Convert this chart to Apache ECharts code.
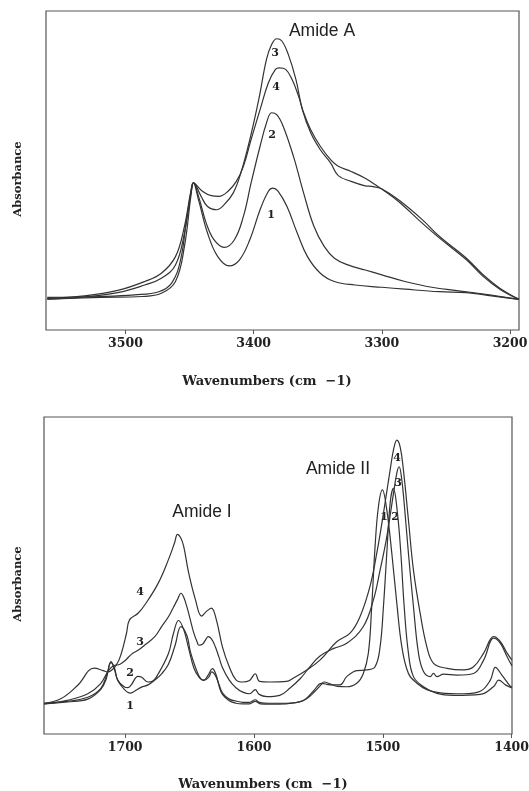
<!DOCTYPE html>
<html>
<head>
<meta charset="utf-8">
<script src="https://cdn.jsdelivr.net/npm/echarts@6/dist/echarts.min.js"></script>
<style>
html, body { margin: 0; padding: 0; background: #fff; }
#main { width: 529px; height: 791px; }
</style>
</head>
<body>
<div id="main"></div>
<script>
// Amide A region (cm-1, absorbance a.u.)
var amideA1 = [[3561,0.097],[3519,0.102],[3487,0.105],[3472,0.115],[3461,0.152],[3454,0.262],[3449,0.419],[3447,0.461],[3443,0.408],[3436,0.304],[3428,0.230],[3419,0.201],[3411,0.220],[3403,0.283],[3395,0.377],[3388.5,0.435],[3385,0.445],[3381,0.435],[3374,0.387],[3366,0.304],[3358,0.230],[3348,0.178],[3337,0.152],[3321,0.141],[3300,0.134],[3282,0.128],[3255,0.120],[3234,0.117],[3216,0.108],[3193,0.096]];
var amideA2 = [[3561,0.102],[3519,0.105],[3493,0.110],[3474,0.120],[3464,0.147],[3457,0.220],[3452,0.356],[3448,0.450],[3447,0.461],[3443,0.419],[3437,0.335],[3431,0.283],[3423,0.259],[3415,0.283],[3408,0.356],[3402,0.461],[3395,0.576],[3390,0.649],[3386,0.681],[3382,0.675],[3377,0.639],[3369,0.545],[3361,0.429],[3353,0.325],[3345,0.262],[3337,0.225],[3326.5,0.204],[3313,0.188],[3300,0.173],[3282,0.152],[3261,0.134],[3234,0.120],[3216,0.110],[3193,0.096]];
var amideA3 = [[3561,0.099],[3532,0.107],[3506,0.124],[3485,0.152],[3472,0.178],[3461,0.230],[3454,0.325],[3449,0.435],[3447,0.461],[3441,0.419],[3436,0.387],[3429,0.377],[3423,0.393],[3416,0.429],[3410,0.492],[3403,0.597],[3396,0.723],[3390,0.848],[3386,0.895],[3382,0.913],[3378,0.906],[3373,0.864],[3367,0.785],[3362,0.691],[3355.5,0.618],[3348,0.565],[3340,0.524],[3334,0.484],[3324,0.466],[3313,0.452],[3308,0.450],[3300,0.442],[3287,0.408],[3268.5,0.346],[3255,0.293],[3234,0.225],[3221,0.173],[3208,0.131],[3193,0.096]];
var amideA4 = [[3561,0.097],[3532,0.104],[3506,0.117],[3485,0.141],[3472,0.162],[3461,0.204],[3454,0.304],[3449,0.429],[3447,0.461],[3440,0.435],[3433,0.421],[3427,0.419],[3420,0.435],[3413.5,0.466],[3408,0.513],[3402,0.597],[3395,0.691],[3388.5,0.775],[3383,0.817],[3380,0.822],[3375,0.817],[3370,0.785],[3365,0.733],[3361,0.681],[3355.5,0.628],[3348,0.576],[3340,0.534],[3334,0.513],[3324,0.497],[3313,0.476],[3305,0.455],[3300,0.442],[3287,0.403],[3268.5,0.335],[3255,0.288],[3234,0.220],[3221,0.168],[3208,0.128],[3193,0.096]];

// Amide I / II region
var amideI1 = [[1763,0.095],[1745,0.101],[1729,0.110],[1719,0.140],[1715,0.170],[1711,0.228],[1708.4,0.205],[1705.8,0.170],[1700.5,0.140],[1696.1,0.129],[1692.7,0.135],[1687.4,0.148],[1682.2,0.155],[1677,0.170],[1671.7,0.190],[1666.4,0.220],[1661.2,0.280],[1656.7,0.339],[1652,0.310],[1649.4,0.260],[1645.4,0.210],[1641.5,0.175],[1638.9,0.170],[1635.7,0.185],[1632.3,0.206],[1629.7,0.190],[1627,0.150],[1624.5,0.125],[1619.2,0.105],[1614,0.097],[1608.7,0.095],[1603.5,0.095],[1599,0.103],[1595,0.095],[1588,0.094],[1575,0.095],[1562,0.105],[1555,0.125],[1548,0.155],[1545.7,0.164],[1541,0.158],[1535,0.150],[1528,0.149],[1520.2,0.160],[1515.1,0.191],[1511.2,0.255],[1508.6,0.402],[1506,0.591],[1503.4,0.717],[1500.3,0.770],[1496.9,0.707],[1493,0.570],[1489.1,0.412],[1485.2,0.275],[1480.1,0.191],[1473.5,0.160],[1465.8,0.140],[1455.4,0.130],[1437.3,0.127],[1424.3,0.135],[1416.5,0.170],[1412.6,0.210],[1407.4,0.185],[1400.9,0.150],[1399.7,0.148]];
var amideI2 = [[1763,0.097],[1745,0.103],[1729,0.116],[1719,0.143],[1714,0.190],[1711,0.225],[1708.4,0.210],[1705.8,0.170],[1700.5,0.148],[1697.9,0.146],[1695.3,0.155],[1690.1,0.182],[1687.4,0.180],[1682.2,0.164],[1679,0.166],[1674.3,0.190],[1666.4,0.254],[1662.5,0.317],[1658.6,0.358],[1654.6,0.330],[1650.7,0.270],[1646.8,0.210],[1642.8,0.180],[1638.9,0.169],[1635,0.180],[1632.8,0.196],[1630,0.185],[1627,0.155],[1624.5,0.130],[1619.2,0.110],[1614,0.104],[1608.7,0.100],[1603.5,0.100],[1599,0.108],[1596,0.100],[1588,0.097],[1575,0.097],[1562,0.105],[1554,0.135],[1547.5,0.160],[1541,0.155],[1533.2,0.155],[1528,0.181],[1520.2,0.200],[1512.5,0.202],[1506,0.212],[1502.1,0.275],[1499.5,0.402],[1496.9,0.570],[1494.3,0.728],[1491.8,0.775],[1488.6,0.696],[1486,0.570],[1483.4,0.402],[1480.1,0.255],[1476.2,0.181],[1468.4,0.149],[1458,0.128],[1445,0.122],[1424.3,0.125],[1413.9,0.150],[1410,0.170],[1404.8,0.155],[1399.7,0.145]];
var amideI3 = [[1763,0.095],[1745,0.106],[1729,0.127],[1719,0.159],[1713,0.200],[1709,0.215],[1704,0.220],[1700,0.232],[1695,0.252],[1690,0.264],[1685,0.280],[1677,0.307],[1671.7,0.339],[1666.4,0.370],[1662.5,0.400],[1659.4,0.424],[1656.7,0.444],[1654.6,0.432],[1652,0.400],[1649.4,0.360],[1646.8,0.320],[1644.1,0.290],[1642.8,0.280],[1640,0.283],[1637.1,0.300],[1635.7,0.307],[1633,0.300],[1630,0.275],[1627,0.240],[1624.5,0.210],[1619.2,0.170],[1614,0.146],[1608.7,0.132],[1603.5,0.127],[1599,0.140],[1596,0.125],[1590,0.118],[1580,0.122],[1572,0.145],[1564,0.175],[1557,0.210],[1549,0.245],[1538,0.270],[1528,0.286],[1515.1,0.339],[1507.3,0.423],[1502.1,0.517],[1496.9,0.622],[1491.7,0.759],[1489,0.825],[1487.3,0.843],[1485.5,0.810],[1483.4,0.728],[1480.1,0.570],[1476.2,0.402],[1472.3,0.255],[1468.4,0.197],[1463.2,0.181],[1460.6,0.191],[1458,0.181],[1452.8,0.189],[1442.4,0.186],[1429.5,0.191],[1421.7,0.233],[1413.9,0.302],[1408.7,0.286],[1403.5,0.244],[1399.7,0.215]];
var amideI4 = [[1763,0.097],[1750,0.111],[1737,0.153],[1724,0.208],[1717,0.200],[1713.7,0.196],[1707,0.217],[1703,0.254],[1699,0.317],[1696.6,0.360],[1690,0.381],[1684.8,0.407],[1674.3,0.476],[1666.4,0.550],[1661.5,0.605],[1659.4,0.630],[1657,0.620],[1654.6,0.593],[1650.7,0.508],[1645.4,0.423],[1640.7,0.372],[1637.1,0.386],[1633.1,0.397],[1629.2,0.360],[1624.5,0.275],[1619.2,0.212],[1614,0.171],[1608.7,0.164],[1603.5,0.169],[1599,0.190],[1595.6,0.166],[1587.7,0.164],[1574.6,0.166],[1569.6,0.176],[1559,0.202],[1548.8,0.233],[1535.8,0.291],[1525.4,0.318],[1517.7,0.370],[1510,0.465],[1504.7,0.570],[1499.5,0.696],[1494.3,0.833],[1491.5,0.900],[1489.1,0.927],[1486.5,0.905],[1484,0.833],[1480.1,0.675],[1476.2,0.517],[1471,0.381],[1465.8,0.275],[1460.6,0.223],[1450.2,0.207],[1437.3,0.202],[1429.5,0.212],[1421.7,0.255],[1413.9,0.307],[1408.7,0.291],[1403.5,0.255],[1399.7,0.233]];

var ticksTop = [3500, 3400, 3300, 3200];
var ticksBottom = [1700, 1600, 1500, 1400];

var lineColor = '#333';
var serif = '"DejaVu Serif", serif';

function xAx(idx, min, max, ticks) {
    return {
        type: 'value', gridIndex: idx, inverse: true, min: min, max: max,
        axisLine: { show: false },
        splitLine: { show: false },
        axisTick: { show: true, inside: false, length: 4, customValues: ticks, lineStyle: { color: '#555', width: 1 } },
        axisLabel: {
            customValues: ticks, margin: 7, color: '#222', fontFamily: serif, fontWeight: 'bold', fontSize: 12.5,
            formatter: function (v) { return String(v); }
        }
    };
}
function yAx(idx) {
    return { type: 'value', gridIndex: idx, min: 0, max: 1, show: false };
}
function curve(data, idx) {
    return {
        type: 'line', data: data, xAxisIndex: idx, yAxisIndex: idx,
        showSymbol: false, smooth: 0.4, silent: true,
        lineStyle: { color: lineColor, width: 1.2 }
    };
}
function txt(s, x, y, font, rot) {
    return {
        type: 'text', x: x, y: y, rotation: rot || 0, silent: true,
        style: { text: s, font: font, fill: '#222', align: 'center', verticalAlign: 'middle' }
    };
}
var numFont = 'bold 11px ' + serif;
var sansFont = '17.5px "Liberation Sans", Arial, sans-serif';
var titleFont = 'bold 13px ' + serif;

var myChart = echarts.init(document.getElementById('main'));
var option = {
    animation: false,
    backgroundColor: '#fff',
    grid: [
        { left: 46, right: 10, top: 11, bottom: 461, show: true, borderColor: '#555', borderWidth: 1.2, outerBoundsMode: 'none', containLabel: false },
        { left: 44, right: 17, top: 417, bottom: 57, show: true, borderColor: '#555', borderWidth: 1.2, outerBoundsMode: 'none', containLabel: false }
    ],
    xAxis: [xAx(0, 3193, 3562, ticksTop), xAx(1, 1399.7, 1763, ticksBottom)],
    yAxis: [yAx(0), yAx(1)],
    series: [
        curve(amideA1, 0), curve(amideA2, 0), curve(amideA3, 0), curve(amideA4, 0),
        curve(amideI1, 1), curve(amideI2, 1), curve(amideI3, 1), curve(amideI4, 1)
    ],
    graphic: [
        txt('Amide A', 322, 31, sansFont),
        txt('3', 275, 53, numFont), txt('4', 276, 87, numFont),
        txt('2', 272, 135, numFont), txt('1', 271, 215, numFont),
        txt('Wavenumbers (cm  \u22121)', 267, 382, titleFont),
        txt('Absorbance', 18, 179, 'bold 11.5px ' + serif, Math.PI / 2),
        txt('Amide I', 202, 512, sansFont),
        txt('Amide II', 338, 469, sansFont),
        txt('4', 140, 592, numFont), txt('3', 140, 642, numFont),
        txt('2', 130, 673, numFont), txt('1', 130, 706, numFont),
        txt('4', 397, 458, numFont), txt('3', 398, 483, numFont),
        txt('1', 384, 517, numFont), txt('2', 395, 517, numFont),
        txt('Wavenumbers (cm  \u22121)', 263, 785, titleFont),
        txt('Absorbance', 18, 584, 'bold 11.5px ' + serif, Math.PI / 2)
    ]
};
myChart.setOption(option);
</script>
</body>
</html>
